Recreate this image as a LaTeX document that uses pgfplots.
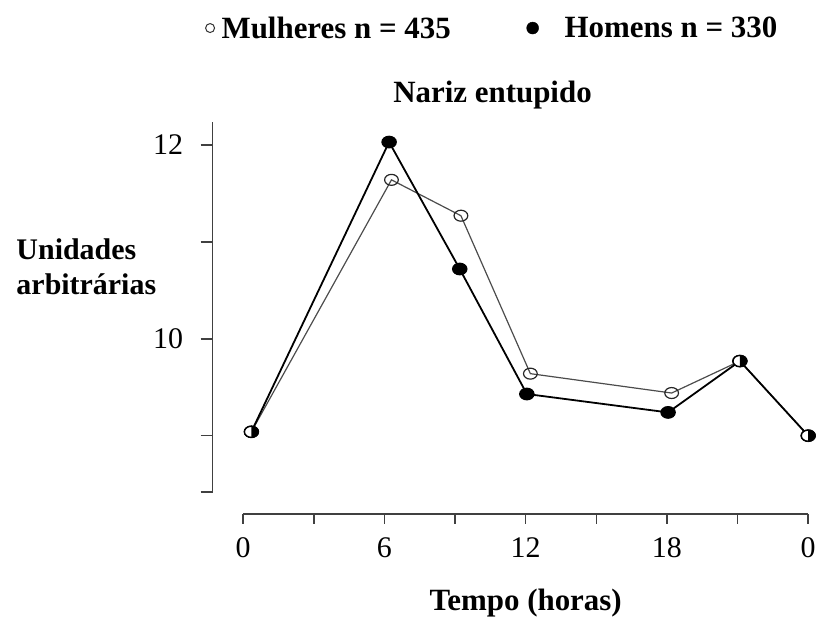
\documentclass[border=0pt]{standalone}
\usepackage{pgfplots}
\pgfplotsset{compat=1.18}
\usepackage{fontspec}
\setmainfont{Liberation Serif}

% circle with the right half filled, for points where both groups coincide
\pgfdeclareplotmark{halfdot}{%
  \pgfpathcircle{\pgfpointorigin}{\pgfplotmarksize}%
  \pgfsetfillcolor{white}\pgfusepathqfillstroke
  \pgfpathmoveto{\pgfqpoint{0pt}{-\pgfplotmarksize}}%
  \pgfpatharc{-90}{90}{\pgfplotmarksize}%
  \pgfpathclose
  \pgfsetfillcolor{black}\pgfusepathqfill
}

\begin{document}
\begin{tikzpicture}[font=\fontsize{30}{35}\selectfont]
\begin{axis}[
  name=main,
  scale only axis, width=597pt, height=371pt,
  xmin=-1.3, xmax=24, ymin=8.42, ymax=12.24,
  axis x line=none, axis y line=left,
  y axis line style={-, line width=1.6pt, black!75},
  ytick={9,10,11,12}, yticklabels={,10,,12},
  extra y ticks={8.42}, extra y tick labels={},
  tick align=outside, major tick length=12pt,
  ytick style={line width=1.6pt, black!75},
  every extra y tick/.style={line width=1.6pt, black!75},
  /pgf/number format/assume math mode=true,
  yticklabel style={font=\fontsize{30}{32}\selectfont, xshift=-14pt},
  clip=false,
  legend style={draw=none, fill=none, at={(rel axis cs:-0.017,1.253)}, anchor=west,
    font=\bfseries\fontsize{31}{35}\selectfont,
    legend image code/.code={\draw[#1] plot coordinates {(0pt,0pt)};},
    /tikz/every even column/.append style={column sep=74pt}},
  legend columns=2, legend cell align=left,
]
% frame of the whole figure
\path (rel axis cs:-0.3568,-0.3935) rectangle (rel axis cs:1.0151,1.3288);

\addlegendimage{only marks, mark=o, mark size=4.5pt, mark options={fill=white, line width=1pt, draw=black!80}}
\addlegendentry{\hspace{5pt}Mulheres n = 435}
\addlegendimage{only marks, mark=*, mark size=6pt}
\addlegendentry{\hspace{24pt}Homens n = 330}

% Mulheres
\addplot[black!70, line width=1.2pt, mark=o,
  mark options={xscale=1.25, fill=white, draw=black!85, line width=1.2pt}, mark size=5.5pt, forget plot]
  coordinates {(0.35,9.04) (6.3,11.64) (9.25,11.27) (12.2,9.64) (18.2,9.44) (21.1,9.77) (24,9.0)};
% Homens
\addplot[black, line width=1.8pt, mark=*,
  mark options={xscale=1.25}, mark size=5.5pt, forget plot]
  coordinates {(0.35,9.04) (6.2,12.03) (9.2,10.72) (12.05,9.43) (18.05,9.24) (21.1,9.77) (24,9.0)};
% coinciding points
\addplot[only marks, mark=halfdot, mark size=5.5pt,
  mark options={xscale=1.25, draw=black, line width=1.2pt}, forget plot]
  coordinates {(0.35,9.04) (21.1,9.77) (24,9.0)};

\node[font=\bfseries\fontsize{31}{35}\selectfont] at (rel axis cs:0.47,1.072) {Nariz entupido};
\node[anchor=west, align=left, font=\bfseries\fontsize{30}{35}\selectfont]
  at (rel axis cs:-0.335,0.609) {Unidades\\arbitrárias};
\end{axis}

\begin{axis}[
  at={(30.7pt,-22pt)}, anchor=south west,
  scale only axis, width=566.3pt, height=1pt,
  xmin=0, xmax=24, ymin=0, ymax=1,
  axis x line=bottom, axis y line=none,
  x axis line style={-, line width=1.6pt, black!75},
  xtick={0,6,12,18,24}, xticklabels={0,6,12,18,0},
  minor xtick={3,9,15,21},
  tick align=outside, major tick length=10pt, minor tick length=10pt,
  xtick style={line width=1.6pt, black!75},
  minor tick style={line width=1.6pt, black!75},
  /pgf/number format/assume math mode=true,
  xticklabel style={font=\fontsize{30}{32}\selectfont, yshift=-10pt},
  xlabel={Tempo (horas)},
  xlabel style={font=\bfseries\fontsize{31}{35}\selectfont, yshift=-25pt},
]
\end{axis}
\end{tikzpicture}
\end{document}
